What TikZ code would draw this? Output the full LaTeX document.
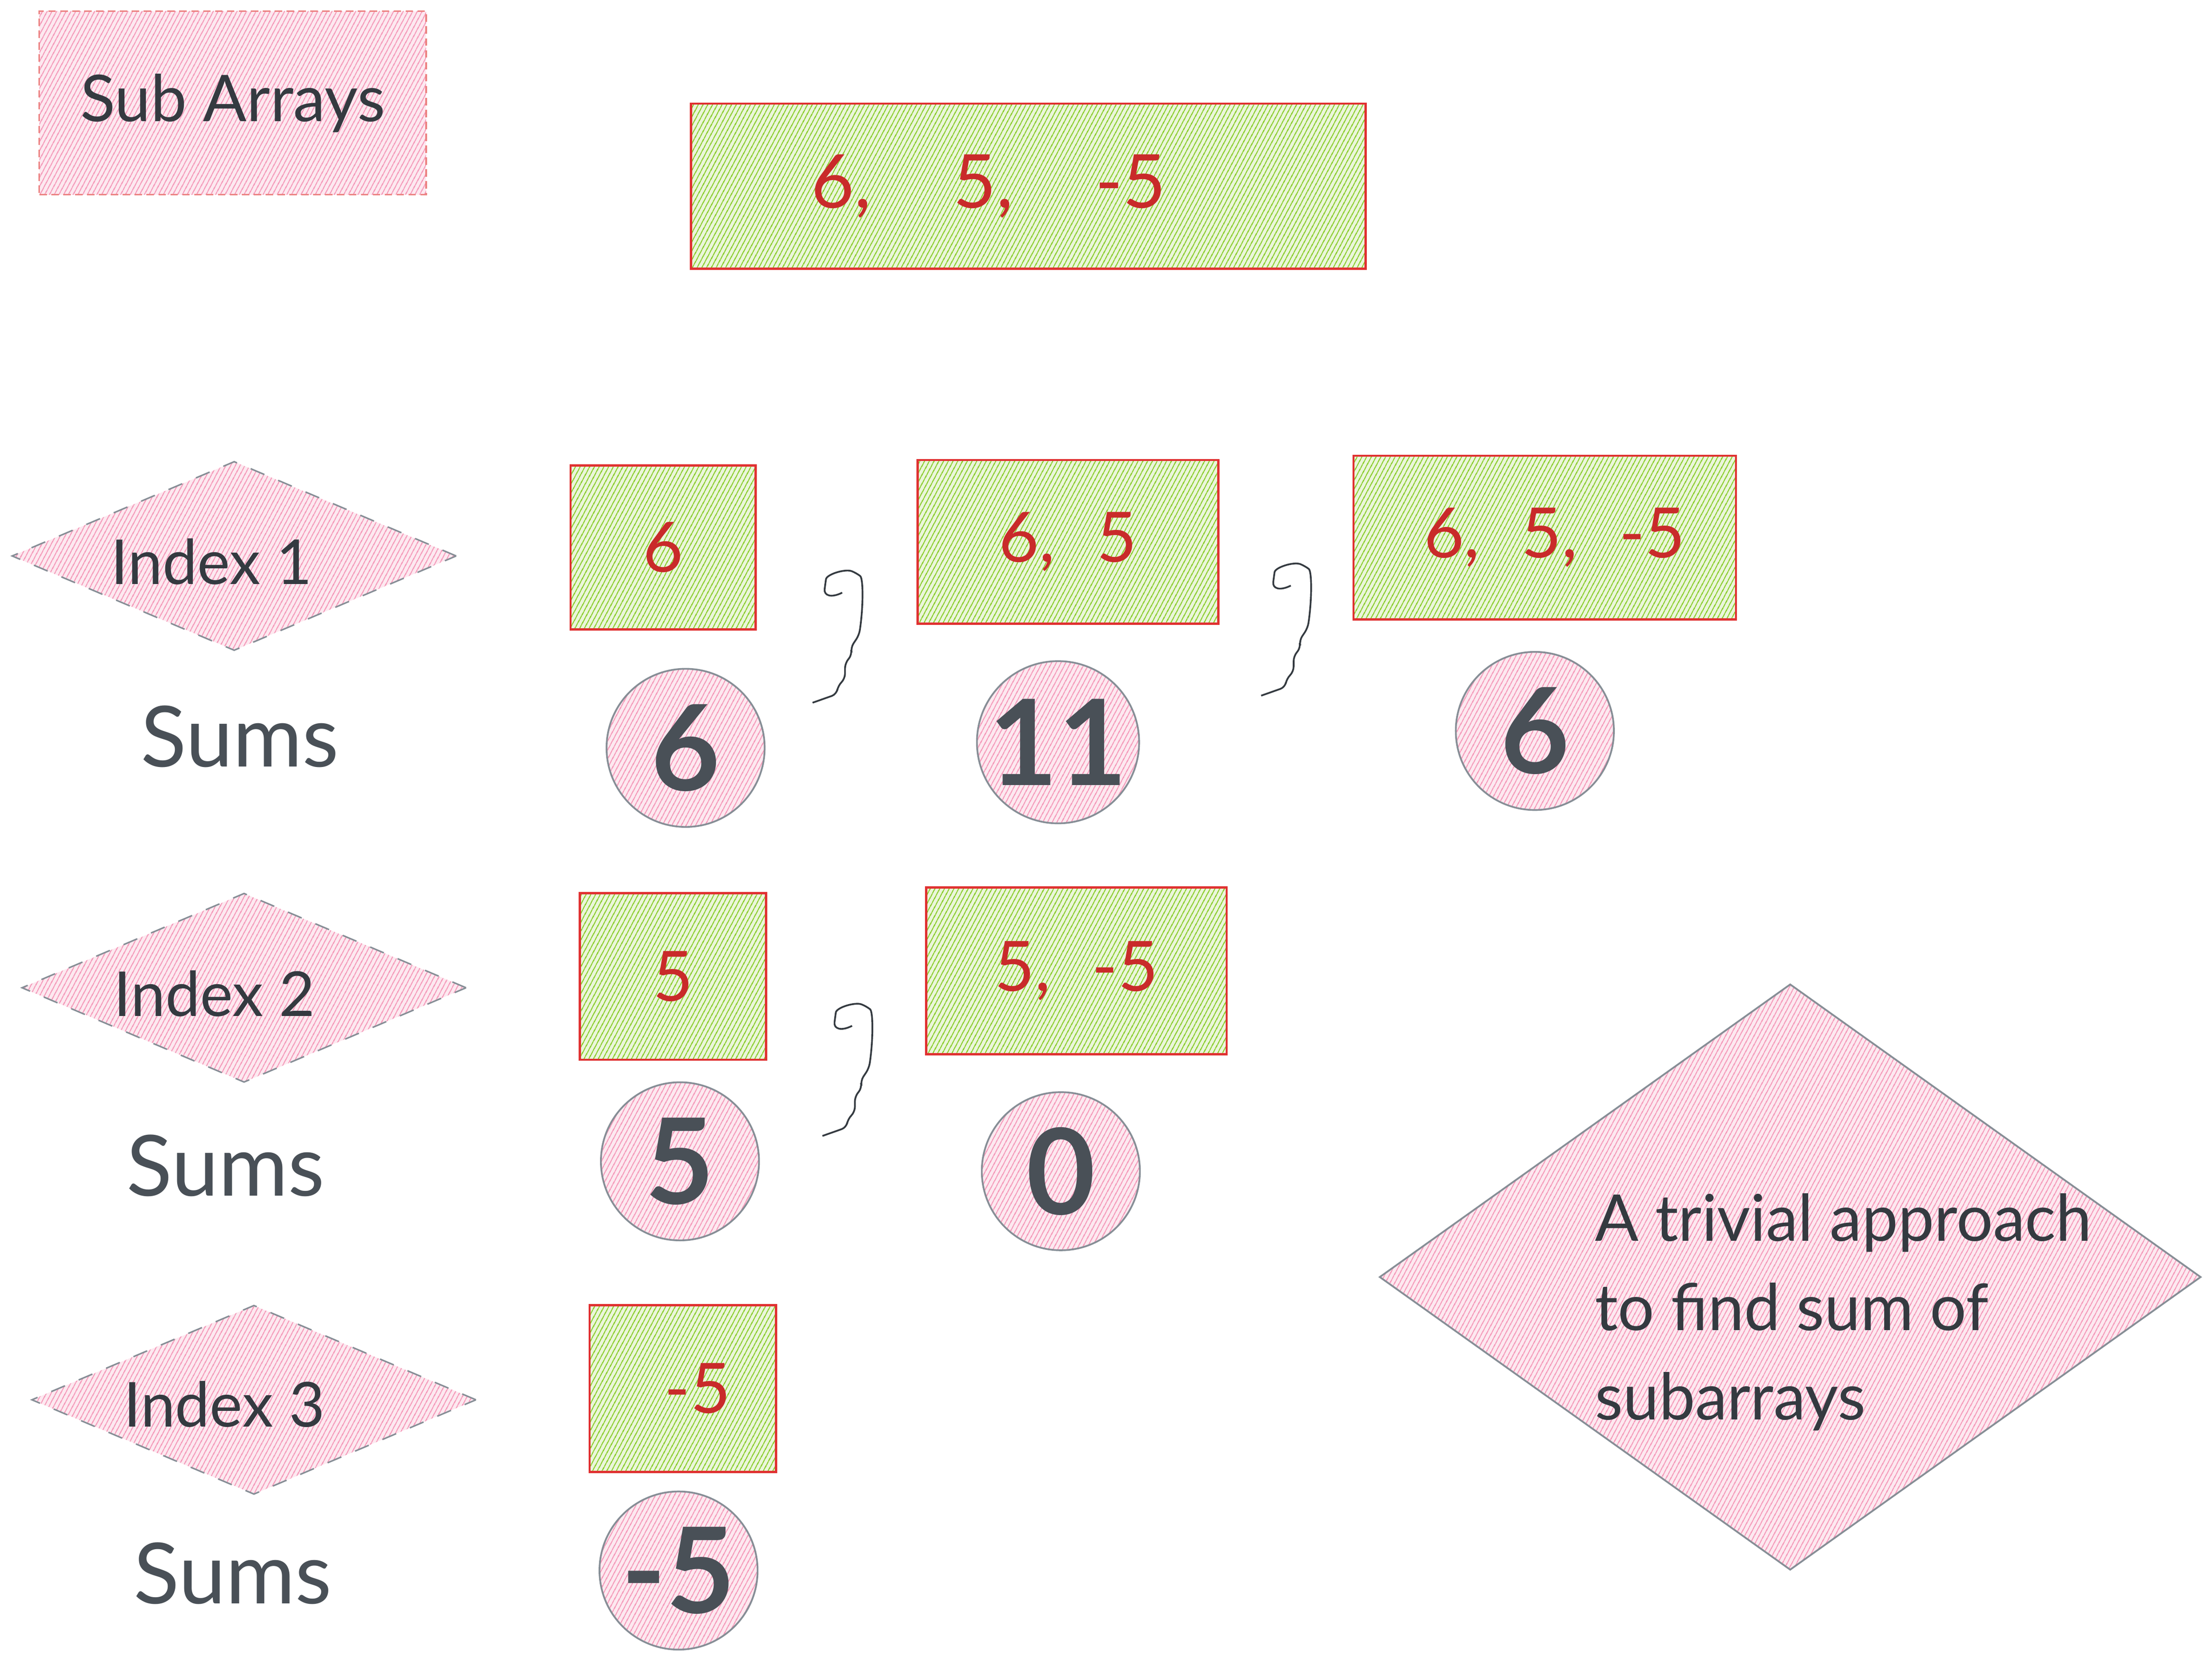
\documentclass[tikz,border=0pt]{standalone}
\usepackage{fontspec}
\setmainfont{Lato}
\usetikzlibrary{shapes.geometric, patterns.meta}

\definecolor{inkdark}{HTML}{343A40}
\definecolor{inkgrey}{HTML}{495057}
\definecolor{edgegrey}{HTML}{868E96}
\definecolor{edgered}{HTML}{E03131}
\definecolor{numred}{HTML}{C92A2A}
\definecolor{hatchgreen}{HTML}{82C91E}
\definecolor{hatchpink}{HTML}{F06595}

\begin{document}
\begin{tikzpicture}[x=0.01cm, y=-0.01cm]
\tikzset{font=\fontsize{12}{18}\selectfont}
\tikzset{pinkfill/.style={preaction={fill=hatchpink!14}, pattern={Lines[angle=62, distance=0.9pt, line width=0.22pt]}, pattern color=hatchpink!70}}
\tikzset{greenfill/.style={preaction={fill=hatchgreen!16}, pattern={Lines[angle=62, distance=0.9pt, line width=0.22pt]}, pattern color=hatchgreen}}
\tikzset{arraybox/.style={greenfill, draw=edgered, line width=0.45pt, inner sep=0pt, text=numred, font=\fontsize{14}{16}\selectfont}}
\tikzset{sumdot/.style={circle, pinkfill, draw=edgegrey, line width=0.35pt, minimum size=1.12cm, inner sep=0pt, text=inkgrey, font=\fontsize{24}{26}\bfseries}}
\tikzset{indexdia/.style={diamond, pinkfill, draw=edgegrey, dashed, line width=0.3pt, inner sep=0pt, minimum width=3.15cm, minimum height=1.34cm}}
\tikzset{indextext/.style={anchor=west, inner sep=0pt, text=inkdark, font=\fontsize{12.5}{15}\selectfont}}
\tikzset{sumtext/.style={text=inkgrey, font=\fontsize{17}{19}\selectfont}}
\tikzset{sepmark/.pic={\draw[inkdark, line width=0.35pt, rounded corners=1pt] (12,15) .. controls (4,19) and (-1,17) .. (0,9) .. controls (1,2) and (14,-2) .. (22,1) .. controls (27,5) and (27,25) .. (24,45) -- (18,54) -- (19,59) -- (14,65) -- (14,76) -- (9,81) -- (8,87) -- (-9,93);}}

\useasboundingbox (0,0) rectangle (1568,1182);

\node[pinkfill, draw=edgered!60, dash pattern=on 1.5pt off 0.9pt, line width=0.3pt, minimum width=2.74cm, minimum height=1.3cm, inner sep=0pt, text=inkdark, font=\fontsize{13}{15}\selectfont] (sub) at (165,73) {\raisebox{-2pt}{Sub Arrays}};
\node[arraybox, minimum width=4.78cm, minimum height=1.17cm, font=\fontsize{15}{17}\selectfont] (top) at (729,132) {6,\hspace{1.1em}5,\hspace{1.1em}-5\kern16pt};

% index 1
\node[indexdia] (idx1) at (166,394) {};
\node[indextext] (idx1t) at (78,398) {Index 1};
\node[sumtext] (sum1) at (170,522) {Sums};
\node[arraybox, minimum width=1.31cm, minimum height=1.16cm] (a1) at (470,388) {6};
\node[arraybox, minimum width=2.13cm, minimum height=1.16cm] (b1) at (757,384) {6,\hspace{0.6em}5};
\node[arraybox, minimum width=2.71cm, minimum height=1.16cm] (c1) at (1095,381) {\kern4pt6,\hspace{0.6em}5,\hspace{0.6em}-5};
\pic (m1) at (585,405) {sepmark};
\pic (m2) at (903,400) {sepmark};
\node[sumdot] (s1a) at (486,530) {6};
\node[sumdot] (s1b) at (750,526) {11};
\node[sumdot] (s1c) at (1088,518) {6};

% index 2
\node[indexdia] (idx2) at (173,700) {};
\node[indextext] (idx2t) at (80,704) {Index 2};
\node[sumtext] (sum2) at (160,826) {Sums};
\node[arraybox, minimum width=1.32cm, minimum height=1.18cm] (a2) at (477,692) {5};
\node[arraybox, minimum width=2.13cm, minimum height=1.18cm] (b2) at (763,688) {5,\hspace{0.6em}-5};
\pic (m3) at (592,712) {sepmark};
\node[sumdot] (s2a) at (482,823) {5};
\node[sumdot] (s2b) at (752,830) {0};

% index 3
\node[indexdia] (idx3) at (180,992) {};
\node[indextext] (idx3t) at (87,995) {Index 3};
\node[sumtext] (sum3) at (165,1115) {Sums};
\node[arraybox, minimum width=1.32cm, minimum height=1.18cm] (a3) at (484,984) {\kern6pt-5};
\node[sumdot] (s3a) at (481,1113) {-5};

% note
\node[diamond, pinkfill, draw=edgegrey, line width=0.35pt, inner sep=0pt, minimum width=5.82cm, minimum height=4.15cm] (note) at (1269,905) {};
\node[anchor=west, inner sep=0pt, align=left, text=inkdark, font=\fontsize{13}{18}\selectfont] (notet) at (1130,930) {A trivial approach\\to find sum of\\subarrays};
\end{tikzpicture}
\end{document}
